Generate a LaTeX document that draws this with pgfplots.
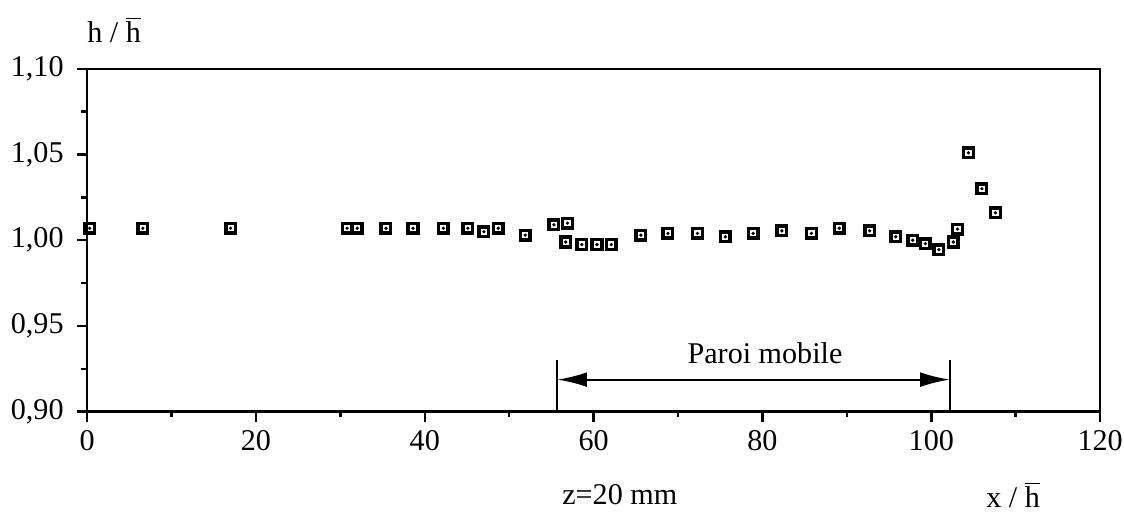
\documentclass[border=0pt]{standalone}
\usepackage{pgfplots}
\pgfplotsset{compat=1.18}
\usetikzlibrary{arrows.meta}
\usepackage{fontspec}
\setmainfont{Liberation Serif}
\pgfplotstableread{
x y
0.3 1.007
6.6 1.007
17.0 1.007
30.8 1.007
32.0 1.007
35.4 1.007
38.6 1.007
42.2 1.007
45.1 1.007
47.0 1.005
48.7 1.007
51.9 1.003
55.3 1.009
56.9 1.010
56.7 0.999
58.6 0.9975
60.4 0.9975
62.1 0.9975
65.6 1.003
68.8 1.004
72.3 1.004
75.6 1.002
78.9 1.004
82.3 1.0055
85.8 1.004
89.1 1.007
92.7 1.0055
95.8 1.002
97.8 1.000
99.3 0.998
100.9 0.9945
102.6 0.999
103.1 1.0065
104.4 1.051
106.0 1.030
107.6 1.016
}\datatable
\begin{document}
\begin{tikzpicture}
\begin{axis}[
  scale only axis,
  width=14.42cm, height=4.88cm,
  xmin=0, xmax=120, ymin=0.90, ymax=1.10,
  xtick={0,20,...,120}, minor xtick={10,30,...,110},
  ytick={0.90,0.95,1.00,1.05,1.10}, minor ytick={0.925,0.975,1.025,1.075},
  tick align=outside, tick pos=left,
  major tick length=0.14cm, minor tick length=0.08cm,
  every tick/.style={black, line width=1pt},
  axis line style={line width=1pt},
  /pgf/number format/assume math mode=true,
  yticklabel style={xshift=-2pt, /pgf/number format/.cd, fixed, fixed zerofill, precision=2, use comma},
  xticklabel style={/pgf/number format/.cd, fixed},
  tick label style={font=\fontsize{12.2}{14}\selectfont},
  clip=false,
]
\addplot[only marks, mark=square, mark size=1.95pt, mark options={line width=1.4pt, black}] table[x=x,y=y] {\datatable};
\addplot[only marks, mark=*, mark size=0.45pt, mark options={black}] table[x=x,y=y] {\datatable};
\draw[line width=0.9pt] (axis cs:55.7,0.90) -- (axis cs:55.7,0.930);
\draw[line width=0.9pt] (axis cs:102.2,0.90) -- (axis cs:102.2,0.930);
\draw[line width=0.9pt, {Latex[length=12pt,width=6pt]}-{Latex[length=12pt,width=6pt]}] (axis cs:55.7,0.9187) -- (axis cs:102.2,0.9187);
\node[font=\fontsize{12.2}{14}\selectfont] at (axis cs:80.3,0.934) {Paroi mobile};
\node[font=\fontsize{12.2}{14}\selectfont] at (axis cs:3.2,1.1227) {h / $\overline{\hbox{h}}$};
\node[font=\fontsize{12.2}{14}\selectfont] at (axis cs:63.1,0.8515) {z=20 mm};
\node[font=\fontsize{12.2}{14}\selectfont, inner sep=1pt] at (axis cs:109.7,0.8515) {x / $\overline{\hbox{h}}$};
\end{axis}
\pgfresetboundingbox
\path (-1.24cm,-1.47cm) rectangle (14.76cm,5.86cm);
\end{tikzpicture}
\end{document}
